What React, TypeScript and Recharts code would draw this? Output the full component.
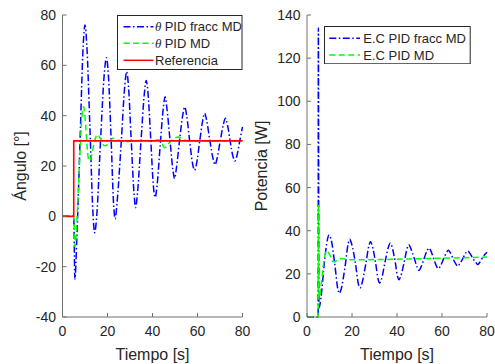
// Two panels: angle response (left) and control effort (right) for PID fracc MD vs PID MD
import React from "react";
import { LineChart, Line, XAxis, YAxis, Legend } from "recharts";

const timeTicks = [0, 20, 40, 60, 80];
const angleTicks = [-40, -20, 0, 20, 40, 60, 80];
const powerTicks = [0, 20, 40, 60, 80, 100, 120, 140];

// left panel: angle [deg]
const angleFraccT = [0, 5, 5.5, 6.4, 7.8, 9.2, 10, 10.8, 12.2, 13.5, 14.3, 15.2, 16.9, 18.6, 19.5, 20.4, 21.6, 22.7, 23.4, 24.2, 26, 27.7, 28.5, 29.3, 30.5, 31.8, 32.5, 33.3, 34.9, 36.4, 37.2, 38, 39.2, 40.4, 41.2, 42, 43.4, 44.8, 45.6, 46.4, 47.7, 49, 49.8, 50.6, 52, 53.4, 54.3, 55.2, 56.5, 57.8, 58.7, 59.6, 61, 62.3, 63.2, 64.1, 65.5, 66.9, 67.8, 68.7, 70.1, 71.5, 72.4, 73.3, 74.5, 75.7, 76.6, 77.5, 78.8, 80];
const angleFraccV = [0, 0, -25, -8, 30, 68, 76, 68, 35, 2, -6.5, 0, 30, 57, 63, 56, 31, 5, -1, 5, 28, 52, 57.5, 52, 31, 9, 3.5, 9, 30, 49, 54, 49, 31, 12, 7.5, 12, 28, 43, 47.5, 43, 31, 19, 15, 19, 30, 40, 43.5, 40, 30, 21, 18.3, 21, 30, 38, 41, 38, 30, 23, 20.5, 23, 30, 36.5, 39, 36.5, 30, 24, 22, 24, 30, 35.5];

const angleMdT = [0, 5, 5.5, 6.5, 7.5, 8.5, 9.4, 10.3, 11, 11.8, 12.6, 14, 15.5, 16.8, 18.5, 20, 22.5, 25, 28, 32, 36, 40, 43, 45.5, 47.8, 50, 51.5, 54, 57, 62, 70, 80];
const angleMdV = [0, 0, -12, 0, 20, 38, 43.5, 36, 27, 22, 23, 29, 32.5, 31, 28, 28.5, 31, 30.2, 29.6, 30, 30.1, 30, 30.4, 27.3, 29.6, 31.2, 31.5, 30.4, 29.9, 30, 30, 30];

const refT = [0, 5, 5, 80];
const refV = [0, 0, 30, 30];

// right panel: power [W]
const powerFraccT = [0, 4.95, 5.05, 5.3, 6.2, 7.8, 9, 9.8, 10.7, 12.4, 13.7, 14.4, 15.2, 17, 18.3, 19, 19.8, 21.5, 22.9, 23.6, 24.4, 26.2, 27.5, 28.2, 29, 30.5, 31.6, 32.3, 33.1, 34.7, 36.2, 37, 37.8, 39.2, 40.2, 40.9, 41.7, 43.2, 44.5, 45.3, 46.1, 47.6, 49, 49.8, 50.6, 52, 53.4, 54.2, 55, 56.3, 57.6, 58.4, 59.2, 60.6, 62, 62.8, 63.6, 64.9, 66.2, 67, 67.8, 69.2, 70.6, 71.4, 72.2, 73.6, 75.1, 75.9, 76.7, 78.3, 80];
const powerFraccV = [0, 0, 134, 4, 9, 26, 35.5, 38, 36, 24, 13, 11, 13, 24, 34, 36, 34, 25, 15, 13.5, 15.5, 25, 33, 35, 33, 25, 17.5, 15.8, 17.5, 25.5, 32.5, 34.3, 32.5, 25.5, 19, 17.3, 19, 25.5, 31.8, 33.5, 31.8, 27.5, 23, 21.6, 23, 27, 30.8, 32, 30.8, 27, 23.5, 22.4, 23.5, 26.7, 30, 31, 30, 27, 24.5, 23.5, 24.5, 27, 29.8, 30.6, 29.8, 27.4, 25.2, 24.3, 25.2, 28, 30];

const powerMdT = [0, 4.95, 5.05, 5.3, 6.2, 7.5, 8.7, 10, 11.3, 12.4, 13.8, 15.4, 18, 22, 30, 40, 50, 60, 70, 80];
const powerMdV = [0, 0, 52, 9, 14, 26, 30.8, 29, 25.8, 25.5, 26.8, 27.1, 26.6, 26.5, 26.6, 26.8, 27, 27.3, 27.5, 27.8];

const toPoints = (t: number[], v: number[]) => t.map((x, i) => ({ t: x, v: v[i] }));

const FONT = '"Liberation Sans", Arial, Helvetica, sans-serif';
const TEXT = "#262626";
const AXIS = "#707070";
const BLUE = "#0000ff";
const GREEN = "#00ff00";
const RED = "#ff0000";
const DASHDOT = "7 2.5 1.5 2.5";
const DASH = "6 3.5";

type Row = { color: string; dash?: string; theta?: boolean; label: string };

const LegendBox = ({ w, h, rows, lx1, lx2, tx, ys }: { w: number; h: number; rows: Row[]; lx1: number; lx2: number; tx: number; ys: number[] }) => (
  <svg width={w} height={h} style={{ display: "block", fontFamily: FONT }}>
    <rect x={0.5} y={0.5} width={w - 1} height={h - 1} fill="#fff" stroke={TEXT} strokeWidth={1} />
    {rows.map((r, i) => (
      <g key={r.label}>
        <line x1={lx1} x2={lx2} y1={ys[i]} y2={ys[i]} stroke={r.color} strokeWidth={1.5} strokeDasharray={r.dash} />
        <text x={tx} y={ys[i] + 4.5} fontSize={13} fill={TEXT}>
          {r.theta && (
            <tspan fontStyle="italic" fontFamily='"Liberation Serif", serif'>θ </tspan>
          )}
          {r.label}
        </text>
      </g>
    ))}
  </svg>
);

const leftRows: Row[] = [
  { color: BLUE, dash: DASHDOT, theta: true, label: "PID fracc MD" },
  { color: GREEN, dash: DASH, theta: true, label: "PID MD" },
  { color: RED, label: "Referencia" },
];

const rightRows: Row[] = [
  { color: BLUE, dash: DASHDOT, label: "E.C PID fracc MD" },
  { color: GREEN, dash: DASH, label: "E.C PID MD" },
];

const tickStyle = { fill: TEXT, fontSize: 14 };

const boxAxes = (yDomain: [number, number], yTicks: number[]) => [
  <XAxis key="top" xAxisId="top" orientation="top" type="number" dataKey="t" domain={[0, 80]} ticks={timeTicks} height={0} tickSize={-4} tick={() => <g />} stroke={AXIS} />,
  <YAxis key="right" yAxisId="right" orientation="right" type="number" domain={yDomain} ticks={yTicks} width={0} tickSize={-4} tick={() => <g />} stroke={AXIS} />,
];

export default function App() {
  return (
    <div style={{ position: "absolute", left: 0, top: 0, width: 495, height: 364, background: "#fff", fontFamily: FONT }}>
      <div style={{ position: "absolute", left: 0, top: 0 }}>
        <LineChart width={250} height={364} margin={{ top: 15, right: 7.5, bottom: 0, left: 0 }} style={{ fontFamily: FONT }}>
          <XAxis
            type="number"
            dataKey="t"
            domain={[0, 80]}
            ticks={timeTicks}
            interval={0}
            height={47}
            tickSize={-4}
            tickMargin={13.5}
            tick={tickStyle}
            stroke={AXIS}
            label={{ value: "Tiempo [s]", position: "insideBottom", offset: 4, fill: TEXT, fontSize: 16 }}
          />
          <YAxis
            type="number"
            domain={[-40, 80]}
            ticks={angleTicks}
            interval={0}
            width={62.5}
            tickSize={-4}
            tickMargin={10.5}
            tick={tickStyle}
            stroke={AXIS}
            label={{
              content: () => (
                <text transform="translate(25.5,166) rotate(-90)" textAnchor="middle" fill={TEXT} fontSize={16}>
                  Ángulo [°]
                </text>
              ),
            }}
          />
          {boxAxes([-40, 80], angleTicks)}
          <Line data={toPoints(angleFraccT, angleFraccV)} dataKey="v" type="monotone" stroke={BLUE} strokeWidth={1.5} strokeDasharray={DASHDOT} dot={false} activeDot={false} isAnimationActive={false} />
          <Line data={toPoints(angleMdT, angleMdV)} dataKey="v" type="monotone" stroke={GREEN} strokeWidth={1.5} strokeDasharray={DASH} dot={false} activeDot={false} isAnimationActive={false} />
          <Line data={toPoints(refT, refV)} dataKey="v" type="linear" stroke={RED} strokeWidth={1.6} dot={false} activeDot={false} isAnimationActive={false} />
          <Legend
            layout="vertical"
            align="center"
            verticalAlign="middle"
            wrapperStyle={{ left: 117, top: 15, width: 125.5, height: 55 }}
            content={() => <LegendBox w={125.5} h={55} rows={leftRows} lx1={6.5} lx2={36.5} tx={38} ys={[11.7, 28.3, 45.3]} />}
          />
        </LineChart>
      </div>

      <div style={{ position: "absolute", left: 250, top: 0 }}>
        <LineChart width={245} height={364} margin={{ top: 15, right: 8, bottom: 0, left: 0 }} style={{ fontFamily: FONT }}>
          <XAxis
            type="number"
            dataKey="t"
            domain={[0, 80]}
            ticks={timeTicks}
            interval={0}
            height={47}
            tickSize={-4}
            tickMargin={13.5}
            tick={tickStyle}
            stroke={AXIS}
            label={{ value: "Tiempo [s]", position: "insideBottom", offset: 4, fill: TEXT, fontSize: 16 }}
          />
          <YAxis
            type="number"
            domain={[0, 140]}
            ticks={powerTicks}
            interval={0}
            width={57}
            tickSize={-4}
            tickMargin={10.5}
            tick={tickStyle}
            stroke={AXIS}
            label={{
              content: () => (
                <text transform="translate(17,166) rotate(-90)" textAnchor="middle" fill={TEXT} fontSize={16}>
                  Potencia [W]
                </text>
              ),
            }}
          />
          {boxAxes([0, 140], powerTicks)}
          <Line data={toPoints(powerFraccT, powerFraccV)} dataKey="v" type="monotone" stroke={BLUE} strokeWidth={1.5} strokeDasharray={DASHDOT} dot={false} activeDot={false} isAnimationActive={false} />
          <Line data={toPoints(powerMdT, powerMdV)} dataKey="v" type="monotone" stroke={GREEN} strokeWidth={1.5} strokeDasharray={DASH} dot={false} activeDot={false} isAnimationActive={false} />
          <Legend
            layout="vertical"
            align="center"
            verticalAlign="middle"
            wrapperStyle={{ left: 74, top: 26, width: 146.7, height: 38.3 }}
            content={() => <LegendBox w={146.7} h={38.3} rows={rightRows} lx1={5.3} lx2={36} tx={39.3} ys={[12.3, 29]} />}
          />
        </LineChart>
      </div>
    </div>
  );
}
